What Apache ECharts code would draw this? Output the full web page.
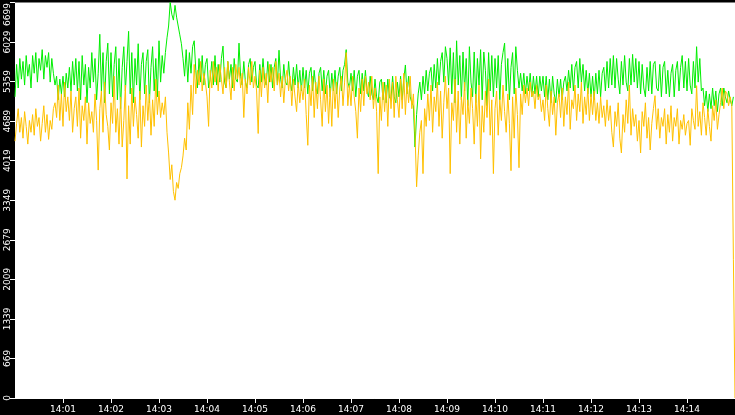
<!DOCTYPE html>
<html><head><meta charset="utf-8">
<script src="https://cdn.jsdelivr.net/npm/echarts@6/dist/echarts.min.js"></script>
<style>html,body{margin:0;padding:0;background:#000;}#c{width:735px;height:415px;}</style>
</head><body><div id="c"></div>
<script>
const stepSeconds = 2;
const xTickLabels = ['14:01','14:02','14:03','14:04','14:05','14:06','14:07','14:08','14:09','14:10','14:11','14:12','14:13','14:14'];
const yTickLabels = ['0','669','1339','2009','2679','3349','4019','4689','5359','6029','6699'];
const yMax = 6699;
const xMaxSeconds = 900;

const green = [
5100,5650,5250,5750,5400,5700,5300,5800,5450,5650,
5250,5800,5500,5850,5350,5750,5550,5900,5400,5800,
5600,5850,5350,5750,5500,5300,5450,5050,5400,5150,
5450,5100,5500,5250,5600,5200,5700,5300,5750,5200,
5700,5050,5800,5300,5650,5000,5600,5250,5850,5350,
5750,5050,5500,6160,5200,5850,5000,5700,6010,5150,
5850,5100,5650,5950,5050,5750,4900,5600,5950,5200,
5700,6210,5150,5850,5000,5750,5300,6000,5050,5650,
5850,5150,5700,5900,5000,5600,5950,5200,5750,5100,
6050,5350,5800,5500,5850,6100,6300,6699,6500,6400,
6650,6450,6300,6150,6000,5750,5450,5900,5350,5850,
5500,5950,6050,5550,5250,5750,5350,5800,5300,5650,
5750,5250,5400,5700,5300,5800,5300,5650,5350,5750,
5960,5350,5250,5700,5400,5650,5250,5750,5400,5350,
6010,5450,5300,5700,5350,5250,5650,5750,5350,5600,
5700,5300,5250,5650,5350,5750,5400,5300,5700,5350,
5650,5250,5600,5750,5300,5890,5400,5250,5650,5350,
5300,5700,5350,5200,5600,5300,5650,5250,5550,5200,
5600,5250,5550,5150,5500,5600,5200,5550,5250,5150,
5500,5600,5200,5550,5150,5450,5550,5100,5500,5200,
5550,5150,5450,5600,5200,5550,5650,5900,5350,5250,
5500,5200,5550,5100,5450,5550,5150,5500,5200,5550,
5200,5100,5450,5150,5050,5400,5100,5000,5350,5400,
5050,5350,5000,5400,5100,5050,5450,5100,5000,5350,
5100,5450,5050,5400,5640,5150,5450,5100,5000,4950,
4250,4800,5150,5350,5050,5450,5150,5550,5200,5500,
5600,5200,5650,5250,5750,5300,5700,5850,5350,5950,
5750,5300,5930,5150,5850,5000,6050,5300,5800,5050,
5860,5200,5750,4950,5950,5350,5100,5860,5000,5750,
5300,5900,5050,5860,5550,4950,5850,5200,5800,5100,
5750,5250,5800,5050,5650,5850,6010,5200,5750,5050,
5600,5850,5150,5950,5550,5250,5500,5200,5500,5150,
5450,5200,5500,5100,5450,5150,5450,5100,5450,5200,
5450,5100,5450,5050,5400,5000,5450,5150,5000,5400,
5100,5400,5050,5350,5450,5200,5550,5250,5650,5200,
5600,5700,5250,5750,5350,5650,5200,5550,5150,5500,
5100,5450,5050,5500,5150,5550,5100,5500,5600,5200,
5700,5250,5750,5300,5800,5250,5750,5400,5150,5700,
5300,5800,5350,5200,5750,5300,5820,5350,5750,5250,
5700,5150,5650,5250,5100,5600,5200,5700,5150,5650,
5700,5250,5200,5650,5100,5600,5700,5150,5550,5100,
5500,5650,5100,5550,5700,5200,5600,5800,5250,5700,
5200,5750,5300,5150,5700,5250,5950,5350,5750,5200,
5250,4950,5200,4850,5150,4900,5250,4950,5200,4850,
5150,5250,4950,5250,5100,5000,5200,5050,4950,5100
];

const yellow = [
4350,4650,4900,4500,4750,4400,4850,4600,4300,4700,
4500,4800,4450,4900,4600,4750,4350,4650,4950,4500,
4800,4380,4700,4550,4900,5000,4750,5300,4700,5150,
4600,5350,4850,5100,4700,5200,4500,4900,5100,4600,
5250,4400,4950,4700,5100,4300,5000,4650,4850,4500,
5150,4700,3860,4900,5200,4500,5350,4800,4600,4200,
5000,4650,5450,4500,4900,4300,5100,4250,4700,5300,
3710,4950,4300,5250,4600,5100,4800,4400,5200,4250,
4950,4600,5300,4700,5150,4450,5050,4600,5400,4800,
5200,4750,5000,4800,5100,4500,4150,3700,3950,3500,
3350,3650,3550,3800,3900,4100,4400,4200,5000,4550,
5300,4800,5650,5150,5550,5300,5700,5200,5500,5350,
5100,4600,5550,5250,5700,5350,5600,5200,5650,5400,
5150,5600,5250,5700,5350,5050,5600,5200,5650,5400,
5600,5250,5500,4750,5400,5150,5600,5300,5700,5250,
5450,5200,4480,5550,5100,5600,5250,5500,5000,5650,
5350,5600,5200,5700,5300,5500,5100,5450,5000,5400,
5550,5200,5450,4950,5400,5100,4850,5350,5000,5300,
5050,5400,4800,4280,5300,4950,5450,4750,5350,4900,
5450,5050,4600,5400,4850,5300,4650,5250,4600,5400,
4900,5350,4750,5250,5450,4950,5350,5850,4950,5300,
4950,5450,5100,4850,4400,5250,4850,5400,4950,5450,
5150,5350,5050,5450,4900,5250,4850,3800,5100,4700,
5350,4850,5300,4600,5400,4900,5350,4750,5450,5050,
4750,5400,4900,5500,4800,5350,5000,5450,4900,5150,
4500,3577,4100,4500,4700,3800,4900,4600,5150,4700,
5300,4500,5100,4850,5350,4600,5200,4400,5000,5450,
4900,5250,3800,5000,4700,5400,4500,5200,4300,5100,
4800,5350,4400,5050,4650,5250,4900,4300,5150,4600,
5300,4050,4950,4500,5200,4750,5400,4450,5050,3800,
4900,5200,4450,5050,4700,5300,4850,4500,5150,4650,
3850,5100,4400,5250,4800,3900,5150,4800,5300,5000,
5250,4950,5350,5100,5200,4900,5300,5050,5150,4850,
5050,4700,5300,4900,4600,5200,4800,5100,4450,5000,
5150,4750,5250,4600,5100,4800,5350,4550,5050,4900,
5300,4700,5150,4850,5350,4650,5100,4800,5250,4700,
5150,4800,5200,4700,5000,4650,5100,4750,4950,4600,
5050,4700,4950,4500,4250,4850,4600,5000,4400,4150,
4800,4500,5050,4650,5300,4450,4900,4600,4800,4350,
4700,4150,4850,4600,5000,4400,4750,4200,4650,4900,
5120,4550,4900,4400,4750,4600,4900,4300,4800,4500,
4950,4350,4750,4600,4900,4300,4700,4550,4800,4450,
4650,4700,4280,4900,4700,4550,5290,4600,4850,4450,
5000,4750,4450,4900,4600,4350,4950,4700,5050,4550,
4800,5000,5250,4900,5200,5150,4950,5100,4950,2350,
0
];

const toPairs = arr => arr.map((v, i) => [i * stepSeconds, v]);
const xTickValues = xTickLabels.map(l => parseInt(l.split(':')[1], 10) * 60);
const FONT = 'DejaVu Sans';

const chart = echarts.init(document.getElementById('c'), null, {renderer: 'canvas'});
chart.setOption({
  backgroundColor: '#000',
  animation: false,
  grid: {left: 15, right: 0, top: 0, bottom: 17, show: true, backgroundColor: '#fff', borderWidth: 0, containLabel: false},
  xAxis: {
    type: 'value', min: 0, max: xMaxSeconds, interval: 60,
    splitLine: {show: false},
    axisLine: {show: true, lineStyle: {color: '#fff', width: 1}},
    axisTick: {show: true, length: 5, lineStyle: {color: '#fff'}, customValues: xTickValues},
    axisLabel: {
      color: '#fff', fontFamily: FONT, fontSize: 9, margin: 7,
      customValues: xTickValues,
      formatter: v => xTickLabels[xTickValues.indexOf(v)] || ''
    }
  },
  yAxis: {
    type: 'value', min: 0, max: yMax, interval: yMax / 10,
    splitLine: {show: false},
    axisLine: {show: false},
    axisTick: {show: true, length: 5, lineStyle: {color: '#fff'}},
    axisLabel: {
      color: '#fff', fontFamily: FONT, fontSize: 9, rotate: 90, margin: 3,
      formatter: v => {
        const k = Math.round(v / (yMax / 10));
        const t = yTickLabels[k];
        return k === 10 ? '{top|' + t + '}' : t;
      },
      rich: {top: {color: '#fff', fontFamily: FONT, fontSize: 9, padding: [0, 24, 0, 0]}}
    }
  },
  series: [
    {type: 'line', data: toPairs(green), showSymbol: false, symbol: 'none', sampling: null,
     lineStyle: {color: '#00ee00', width: 1}, itemStyle: {color: '#00ee00'}, z: 2},
    {type: 'line', data: toPairs(yellow), showSymbol: false, symbol: 'none', sampling: null,
     lineStyle: {color: '#ffc000', width: 1}, itemStyle: {color: '#ffc000'}, z: 3}
  ]
});
</script></body></html>
